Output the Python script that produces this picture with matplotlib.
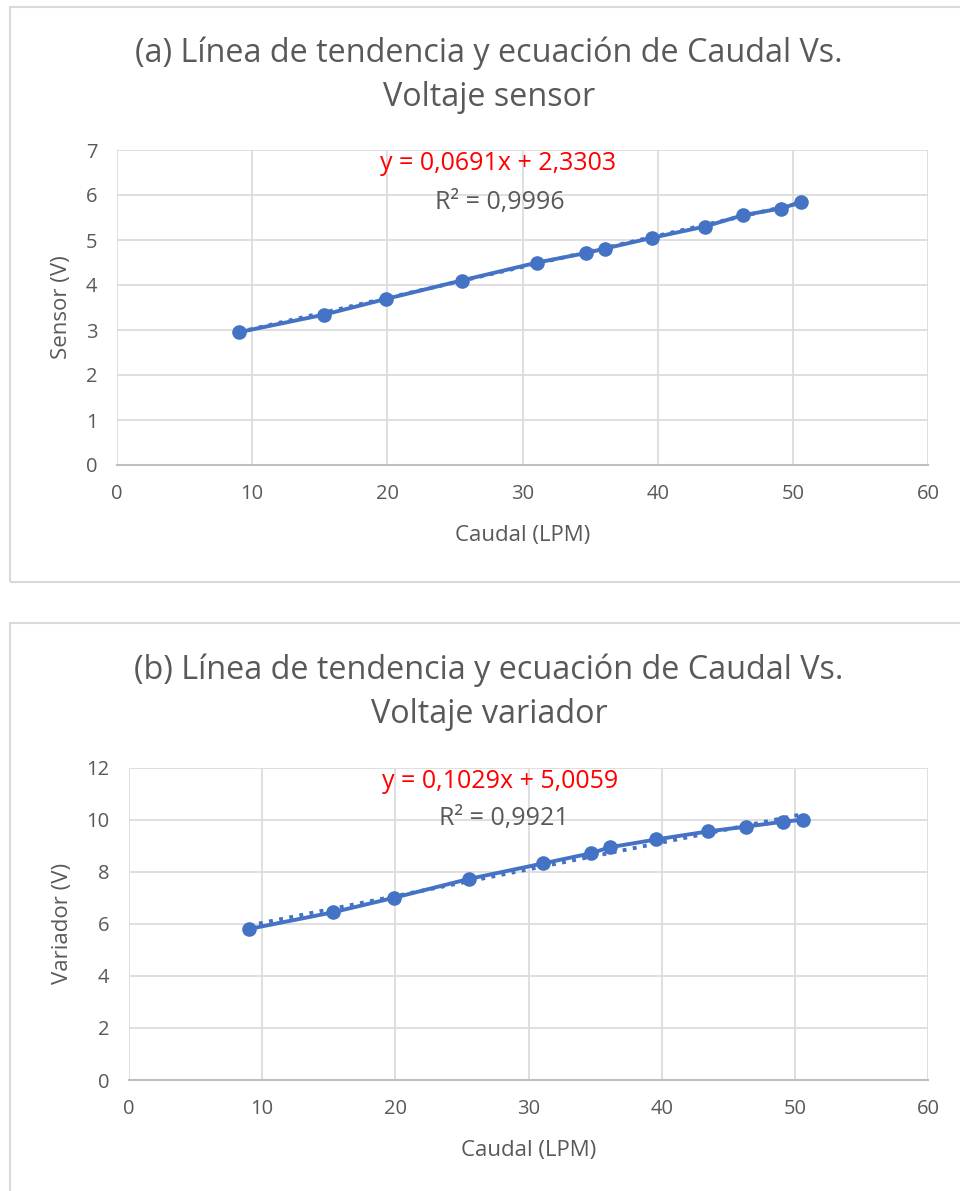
import matplotlib.pyplot as plt
from matplotlib.patches import Rectangle

plt.rcParams['font.family'] = ['Open Sans', 'DejaVu Sans']

# datos
caudal = [9.0, 15.3, 19.9, 25.5, 31.1, 34.7, 36.1, 39.6, 43.5, 46.3, 49.1, 50.6]
sensor = [2.95, 3.34, 3.69, 4.10, 4.50, 4.71, 4.81, 5.05, 5.30, 5.55, 5.70, 5.84]
variador = [5.80, 6.44, 7.00, 7.72, 8.32, 8.71, 8.94, 9.24, 9.55, 9.73, 9.92, 10.00]

# coeficientes de la linea de tendencia
m_sensor, b_sensor, r2_sensor = 0.0691, 2.3303, 0.9996
m_var, b_var, r2_var = 0.1029, 5.0059, 0.9921

x_ticks = [0, 10, 20, 30, 40, 50, 60]
y_ticks_a = [0, 1, 2, 3, 4, 5, 6, 7]
y_ticks_b = [0, 2, 4, 6, 8, 10, 12]

W, H = 960, 1191
BLUE = '#4472C4'
GRID = '#D9D9D9'
TXT = '#595959'

fig = plt.figure(figsize=(W / 100, H / 100), dpi=100)


def box(x0, y0, x1, y1):
    return [x0 / W, 1 - y1 / H, (x1 - x0) / W, (y1 - y0) / H]


def coma(v, n=4):
    return ('%.*f' % (n, v)).replace('.', ',')


def panel(rect, border, title, ylabel, y, yticks, m, b, r2, eq_pos, r2_pos):
    fig.patches.append(Rectangle((border[0] / W, 1 - border[3] / H),
                                 (border[2] - border[0]) / W, (border[3] - border[1]) / H,
                                 transform=fig.transFigure, fill=False,
                                 edgecolor=GRID, linewidth=1.5))
    ax = fig.add_axes(box(*rect))
    ax.set_xlim(0, 60)
    ax.set_ylim(yticks[0], yticks[-1])
    ax.set_xticks(x_ticks)
    ax.set_yticks(yticks)
    ax.grid(True, color=GRID, linewidth=1.2)
    ax.set_axisbelow(True)
    for s in ['top', 'right', 'left']:
        ax.spines[s].set_visible(False)
    ax.spines['bottom'].set_color('#BFBFBF')
    ax.spines['bottom'].set_linewidth(1.5)
    ax.tick_params(length=0, labelsize=14.5, colors=TXT)
    ax.tick_params(axis='x', pad=14)
    ax.tick_params(axis='y', pad=14)

    xt = [caudal[0], caudal[-1]]
    ax.plot(xt, [m * v + b for v in xt], ':', color=BLUE, linewidth=2.8)
    ax.plot(caudal, y, '-o', color=BLUE, linewidth=2.8, markersize=9.5)

    ax.set_xlabel('Caudal (LPM)', fontsize=16, color=TXT, labelpad=15)
    ax.set_ylabel(ylabel, fontsize=16, color=TXT, labelpad=10)

    ax.text(eq_pos[0], eq_pos[1], 'y = %sx + %s' % (coma(m), coma(b)), color='#FF0000',
            fontsize=18, ha='center', va='center')
    ax.text(r2_pos[0], r2_pos[1], 'R² = %s' % coma(r2), color=TXT,
            fontsize=18, ha='center', va='center')

    fig.text(489 / W, 1 - (rect[1] - 75) / H, title, ha='center', va='center',
             fontsize=23.3, color=TXT, linespacing=1.45)
    return ax


panel((117, 150, 928, 465), (10, 7, 990, 582),
      '(a) Línea de tendencia y ecuación de Caudal Vs.\nVoltaje sensor',
      'Sensor (V)', sensor, y_ticks_a, m_sensor, b_sensor, r2_sensor,
      (28.2, 6.69), (28.3, 5.84))

panel((129, 767.6, 928, 1080), (10, 623, 990, 1220),
      '(b) Línea de tendencia y ecuación de Caudal Vs.\nVoltaje variador',
      'Variador (V)', variador, y_ticks_b, m_var, b_var, r2_var,
      (27.9, 11.45), (28.15, 10.06))

fig.savefig('out.png', dpi=100)
